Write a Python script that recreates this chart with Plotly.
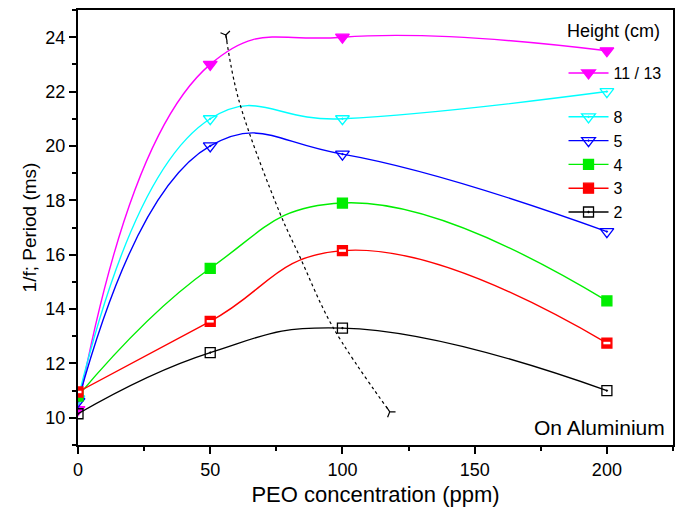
import plotly.graph_objects as go

# ---- data ----
peo = [0, 50, 100, 200]
h_11_13 = [10.3, 23.0, 24.0, 23.5]
h_8 = [10.7, 21.0, 21.0, 22.0]
h_5 = [10.6, 20.0, 19.7, 16.85]
h_4 = [10.8, 15.5, 17.9, 14.3]
h_3 = [10.95, 13.55, 16.15, 12.75]
h_2 = [10.15, 12.4, 13.3, 11.0]

series_names = ["11 / 13", "8", "5", "4", "3", "2"]

# dashed guide curve (trend of maxima)
guide_x = [55.9, 60.8, 76.3, 83.9, 96.3, 117.9]
guide_y = [24.08, 21.69, 17.54, 15.92, 13.35, 10.22]

x_ticks = [0, 50, 100, 150, 200]
y_ticks = [10, 12, 14, 16, 18, 20, 22, 24]

FONT = "Liberation Sans, Arial, sans-serif"

fig = go.Figure()

styles = [
    (h_11_13, "#FF00FF", "triangle-down", "#FF00FF", 12, "a"),
    (h_8, "#00FFFF", "triangle-down-open-dot", "#00FFFF", 12, "b"),
    (h_5, "#0000FF", "triangle-down-open-dot", "#0000FF", 12, "b"),
    (h_4, "#00EE00", "square", "#00EE00", 10, "b"),
    (h_3, "#FF0000", "square", "#FF0000", 10, "b"),
    (h_2, "#000000", "square-open-dot", "#000000", 10, "b"),
]

for (vals, col, sym, mcol, size, grp), name in zip(styles, series_names):
    fig.add_trace(go.Scatter(
        x=peo, y=vals, name=name, mode="lines+markers",
        line=dict(color=col, width=1.4, shape="spline", smoothing=1.3),
        marker=dict(symbol=sym, color=mcol, size=size,
                    line=dict(color=col, width=1.3)),
        legendgroup=grp, cliponaxis=True,
    ))

# white stripe for half-filled red squares
fig.add_trace(go.Scatter(
    x=peo, y=h_3, mode="markers", showlegend=False, hoverinfo="skip",
    marker=dict(symbol="line-ew", size=5, line=dict(color="white", width=2.5)),
    cliponaxis=True,
))

# dashed guide
fig.add_trace(go.Scatter(
    x=guide_x, y=guide_y, mode="lines", showlegend=False, hoverinfo="skip",
    line=dict(color="black", width=1.2, dash="3px,3px", shape="spline", smoothing=1.0),
))
fig.add_trace(go.Scatter(
    x=[guide_x[0], guide_x[-1]], y=[guide_y[0], guide_y[-1]], mode="markers",
    showlegend=False, hoverinfo="skip",
    marker=dict(symbol=["y-down", "y-up"], angle=[-11, -34], size=8,
                line=dict(color="black", width=1.2)),
))

fig.add_annotation(
    x=1, y=0, xref="paper", yref="paper", xanchor="right", yanchor="bottom",
    xshift=-6, yshift=4, text="On Aluminium", showarrow=False,
    font=dict(size=21, color="black", family=FONT),
)
fig.add_annotation(
    x=1, y=1, xref="paper", yref="paper", xanchor="right", yanchor="top",
    xshift=-11, yshift=-9, text="Height (cm)", showarrow=False,
    font=dict(size=18, color="black", family=FONT),
)

axis_common = dict(
    showline=True, linecolor="black", linewidth=2, mirror=True,
    ticks="outside", ticklen=7, tickwidth=2, tickcolor="black",
    showgrid=False, zeroline=False, automargin=False,
    tickfont=dict(size=18, color="black", family=FONT),
)

fig.update_xaxes(
    range=[0, 225], tickvals=x_ticks,
    minor=dict(dtick=25, tick0=0, ticks="outside", ticklen=4, tickwidth=2, tickcolor="black"),
    title=dict(text="PEO concentration (ppm)", font=dict(size=22, color="black", family=FONT), standoff=8),
    **axis_common,
)
fig.update_yaxes(
    range=[9, 25], tickvals=y_ticks,
    minor=dict(dtick=1, tick0=9, ticks="outside", ticklen=4, tickwidth=2, tickcolor="black"),
    title=dict(text="1/f; Period (ms)", font=dict(size=19, color="black", family=FONT), standoff=4),
    **axis_common,
)

# page body has an 8px default margin, so shrink the figure to compensate
fig.update_layout(
    width=677, height=505,
    margin=dict(l=70, r=12, t=2, b=68),
    plot_bgcolor="white", paper_bgcolor="white",
    font=dict(family=FONT, color="black"),
    legend=dict(
        x=0.816, y=0.894, xanchor="left", yanchor="top",
        bgcolor="rgba(0,0,0,0)", borderwidth=0,
        font=dict(size=16, family=FONT, color="black"),
        traceorder="grouped", tracegroupgap=20, itemwidth=40,
    ),
    showlegend=True,
)

fig.write_html("out.html")
